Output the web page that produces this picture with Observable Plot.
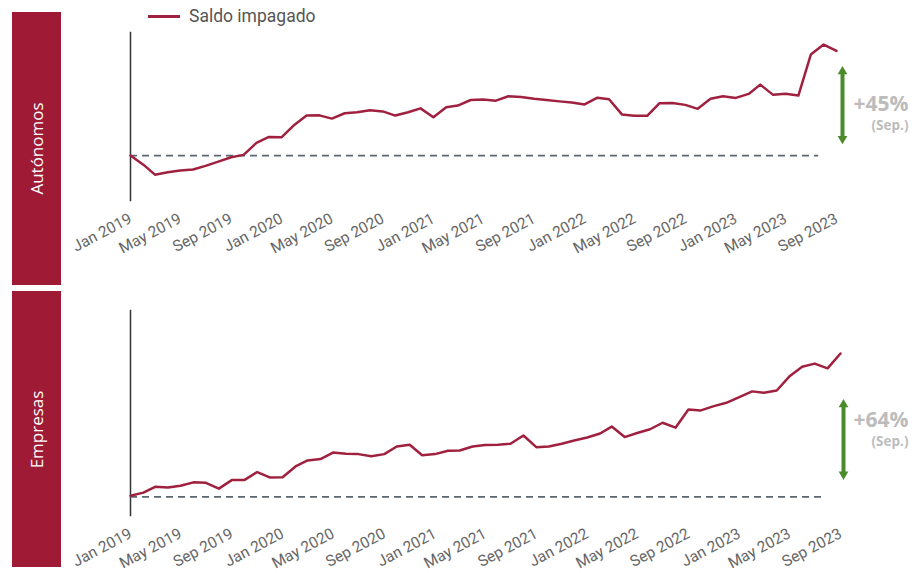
<!DOCTYPE html>
<html>
<head>
<meta charset="utf-8">
<script src="https://cdn.jsdelivr.net/npm/d3@7"></script>
<script src="https://cdn.jsdelivr.net/npm/@observablehq/plot@0.6"></script>
<style>
  body { margin:0; background:#fff; }
  #page { position:relative; width:914px; height:573px; overflow:hidden; background:#fff; font-family: Roboto, "Liberation Sans", sans-serif; }
  .box { position:absolute; left:12px; width:49px; background:#9e1a35; display:flex; align-items:center; justify-content:center; }
  .box span { transform: rotate(-90deg); white-space:nowrap; color:#fff; font-family:"Open Sans", sans-serif; font-size:17px; }
  #legend { position:absolute; left:148px; top:6px; display:flex; align-items:center; font-size:17.5px; color:#555; }
  #legend i { display:inline-block; width:32px; height:3px; background:#a0213f; margin-right:9px; }
  .plot { position:absolute; left:0; }
</style>
</head>
<body>
<div id="page">
  <div class="box" style="top:12px;height:273px"><span>Autónomos</span></div>
  <div class="box" style="top:291px;height:276px"><span>Empresas</span></div>
  <div id="legend"><i></i>Saldo impagado</div>
  <div class="plot" id="p1" style="top:0"></div>
  <div class="plot" id="p2" style="top:285px"></div>
</div>
<script>
// Monthly index (Jan 2019 = 100), Jan 2019 .. Sep 2023
const startMonth = new Date(Date.UTC(2019, 0, 1));
const endMonth = new Date(Date.UTC(2023, 8, 1));
const months = d3.utcMonth.range(startMonth, d3.utcMonth.offset(endMonth, 1));

const autonomos = [
  100, 96.1, 91.8, 92.8, 93.6, 94.0, 95.6, 97.4, 99.3, 100.3, 105.5, 108.0,
  107.9, 113.3, 117.2, 117.3, 115.9, 118.2, 118.6, 119.5, 119.0, 117.2, 118.6, 120.3,
  116.5, 120.8, 121.5, 123.9, 124.1, 123.6, 125.5, 125.2, 124.4, 123.9, 123.3, 122.8,
  122.0, 124.9, 124.2, 117.7, 117.1, 117.1, 122.5, 122.6, 121.8, 120.1, 124.4, 125.5,
  124.8, 126.5, 130.5, 126.1, 126.6, 125.8, 143.4, 147.7, 145.0
];
const empresas = [
  100.5, 101.9, 104.5, 104.2, 105.0, 106.5, 106.3, 103.7, 107.5, 107.5, 111.1, 108.7,
  108.8, 113.6, 116.3, 116.9, 119.8, 119.3, 119.1, 118.1, 119.1, 122.5, 123.3, 118.6,
  119.1, 120.6, 120.7, 122.5, 123.2, 123.3, 123.7, 127.4, 122.2, 122.5, 123.7, 125.2,
  126.5, 128.3, 131.4, 126.7, 128.5, 130.2, 133.1, 130.9, 139.0, 138.6, 140.5, 142.0,
  144.5, 147.1, 146.5, 147.5, 153.7, 158.1, 159.5, 157.4, 164.0
];
const tickMonths = months.filter((d, i) => i % 4 === 0);
const changeLabels = ["+45%", "+64%"];
const changeNote = "(Sep.)";
const baseValue = 100;
const baselineEnd = new Date(Date.UTC(2023, 6, 20));
const arrowTop = [135.7, 107.7];
const arrowBottom = [140.8, 110.5];

const lineColor = "#a0213f";
const green = "#4b8b2b";
const fmt = d3.utcFormat("%b %Y");

function panel(values, opts) {
  const data = months.map((d, i) => ({date: d, value: values[i]}));
  const last = months[months.length - 1];
  return Plot.plot({
    width: 914,
    height: opts.height,
    marginLeft: 130,
    marginRight: opts.marginRight,
    marginTop: opts.marginTop,
    marginBottom: opts.marginBottom,
    style: {fontFamily: "Roboto, 'Liberation Sans', sans-serif", background: "transparent", overflow: "visible"},
    x: {type: "utc", domain: [startMonth, endMonth]},
    y: {domain: opts.yDomain, axis: null},
    marks: [
      Plot.axisX({ticks: tickMonths, tickFormat: fmt, tickRotate: -28, tickSize: 0, tickPadding: 17, fontSize: 15.5, fill: "#666", label: null}),
      Plot.frame({anchor: "left", stroke: "#333", strokeWidth: 1.5}),
      Plot.ruleY([baseValue], {x1: startMonth, x2: baselineEnd, stroke: "#5b6670", strokeWidth: 1.6, strokeDasharray: "7,5"}),
      Plot.line(data, {x: "date", y: "value", stroke: lineColor, strokeWidth: 2.5, curve: "linear"}),
      Plot.ruleX([last], {y1: opts.arrow[0], y2: opts.arrow[1], dx: opts.arrowDx, stroke: green, strokeWidth: 4}),
      Plot.dot([opts.arrow[0]], {x: () => last, y: d => d, dx: opts.arrowDx, symbol: "triangle", r: 3.6, fill: green, dy: -1}),
      Plot.dot([opts.arrow[1]], {x: () => last, y: d => d, dx: opts.arrowDx, symbol: "triangle", r: 3.6, fill: green, rotate: 180, dy: 1}),
      Plot.text([opts.label], {frameAnchor: "top-right", dx: opts.textDx, dy: opts.labelDy, text: d => d, textAnchor: "end", fontSize: 21, fontWeight: "bold", fill: "#bcbcbc", fontFamily: "'Open Sans', sans-serif"}),
      Plot.text([changeNote], {frameAnchor: "top-right", dx: opts.textDx, dy: opts.labelDy + 24, text: d => d, textAnchor: "end", fontSize: 13.5, fontWeight: "bold", fill: "#bcbcbc", fontFamily: "'Open Sans', sans-serif"})
    ]
  });
}

document.getElementById("p1").append(panel(autonomos, {
  height: 285, marginTop: 32, marginBottom: 85, marginRight: 78,
  yDomain: [80.7, 152.9], arrow: arrowTop, arrowDx: 6, label: changeLabels[0], textDx: 72, labelDy: 64
}));
document.getElementById("p2").append(panel(empresas, {
  height: 288, marginTop: 25, marginBottom: 58, marginRight: 74,
  yDomain: [91.7, 183.2], arrow: arrowBottom, arrowDx: 3, label: changeLabels[1], textDx: 68, labelDy: 102
}));
</script>
</body>
</html>
